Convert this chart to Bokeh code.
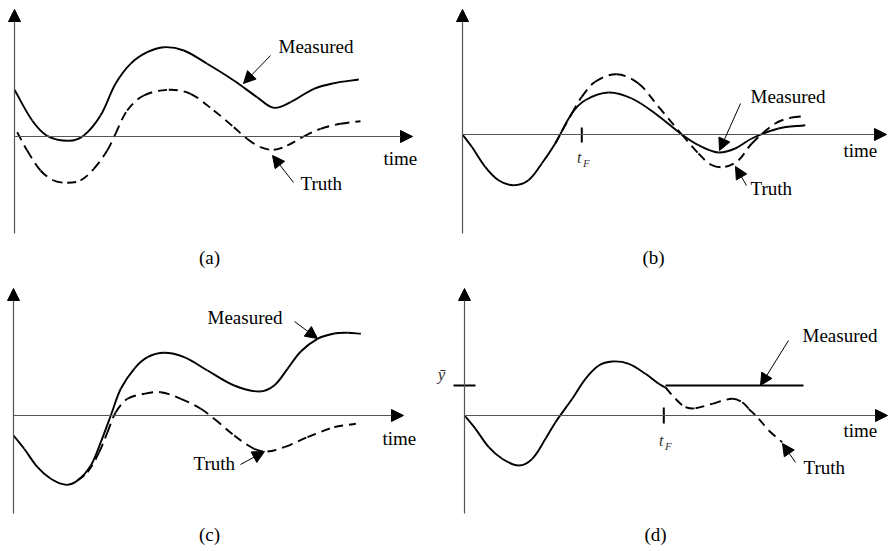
import numpy as np
from bokeh.plotting import figure
from bokeh.layouts import column, row
from bokeh.models import Range1d, Arrow, NormalHead, Label
from bokeh.embed import file_html
from bokeh.resources import INLINE

# ---------------- data (time units, value units) ----------------
# Panel (a)
a_meas_t = [0, 1.77, 3.27, 5.43, 6.93, 8.6, 10.1, 11.6, 13.27, 14.93, 16.93, 19.27, 21.93, 24.27, 25.93, 27.6, 29.93, 31.93, 34.43]
a_meas_v = [4.67, 1.6, 0.07, -0.43, 0.1, 2.1, 5.27, 7.27, 8.43, 8.93, 8.6, 7.27, 5.6, 3.93, 2.87, 3.43, 4.77, 5.33, 5.7]
a_truth_t = [0.27, 1.27, 2.6, 3.93, 5.27, 6.6, 7.93, 9.27, 10.1, 11.27, 12.93, 15.43, 17.6, 19.93, 21.93, 23.27, 24.6, 25.93, 27.27, 28.93, 30.6, 32.6, 34.6]
a_truth_v = [0.43, -1.4, -3.4, -4.4, -4.63, -4.4, -3.23, -1.4, 0.27, 2.6, 4.1, 4.67, 4.27, 2.6, 0.93, -0.23, -1.07, -1.33, -0.9, 0, 0.77, 1.27, 1.53]

# Panel (b)
b_meas_t = [0, 0.93, 2.27, 3.6, 5.1, 6.6, 7.93, 9.27, 10.93, 12.27, 14.6, 16.93, 19.27, 21.93, 23.6, 25.6, 27.27, 28.93, 31.6, 34.27]
b_meas_v = [0, -1.23, -3.23, -4.57, -5.07, -4.57, -2.9, -0.9, 2.1, 3.43, 4.2, 3.6, 2.1, 0, -1.07, -1.8, -1.4, -0.4, 0.6, 0.93]
b_truth_t = [9.27, 10.93, 11.93, 13.27, 15.43, 17.6, 19.6, 21.93, 23.6, 24.93, 26.27, 27.6, 28.93, 31.27, 32.93, 34.27]
b_truth_v = [-0.9, 2.1, 3.77, 5.27, 6.03, 5.1, 2.77, 0, -1.9, -3.07, -3.23, -2.57, -0.9, 1.1, 1.7, 1.83]
b_tF = 11.93

# Panel (c)
c_meas_t = [0, 1.07, 2.4, 3.73, 5.23, 6.4, 7.73, 8.73, 9.73, 10.73, 12.07, 13.4, 15.07, 17.07, 19.4, 22.07, 24.57, 26.07, 27.4, 28.73, 30.4, 32.07, 33.4, 34.73]
c_meas_v = [-2, -3.33, -5.17, -6.33, -6.93, -6.5, -5, -2.67, 0, 2.67, 4.67, 5.83, 6.27, 5.83, 4.5, 3, 2.4, 3, 4.67, 6.4, 7.67, 8.2, 8.27, 8.17]
c_truth_t = [6.4, 7.4, 8.57, 9.4, 10.23, 11.4, 13.07, 14.73, 16.73, 18.73, 20.07, 22.07, 24.07, 25.4, 27.07, 29.4, 32.07, 34.23]
c_truth_v = [-6.5, -5.67, -3.67, -1.67, 0.33, 1.67, 2.17, 2.33, 1.67, 0.67, -0.33, -2, -3.33, -3.6, -3.17, -2.17, -1.17, -0.83]

# Panel (d)
d_meas_t = [0, 1.1, 2.43, 3.77, 5.43, 6.77, 8.1, 9.1, 10.77, 12.1, 13.43, 14.77, 16.43, 18.1, 19.43, 20.1]
d_meas_v = [0, -1.33, -3.17, -4.33, -5, -4.33, -2.33, -0.67, 1.67, 3.67, 5, 5.4, 5.17, 4.17, 3.17, 2.8]
d_hold_t = [20.1, 33.9]
d_ybar = 3.0
d_truth_t = [20.1, 21.1, 22.1, 23.1, 24.77, 26.77, 27.77, 28.43, 29.43, 30.43, 31.77]
d_truth_v = [2.8, 1.67, 0.83, 0.73, 1.17, 1.67, 1.33, 0.67, -0.33, -1.5, -2.67]
d_tF = 19.93

FONT = "Liberation Serif"
AX = "#555555"


def smooth(t, v):
    """Bezier control points (tangent from neighbours, handle = chord/3)."""
    P = np.column_stack([np.asarray(t, float), np.asarray(v, float)])
    T = np.zeros_like(P)
    T[1:-1] = P[2:] - P[:-2]
    T[0] = P[1] - P[0]
    T[-1] = P[-1] - P[-2]
    U = T / np.linalg.norm(T, axis=1)[:, None]
    d = np.linalg.norm(P[1:] - P[:-1], axis=1)[:, None] / 3.0
    C0 = P[:-1] + U[:-1] * d
    C1 = P[1:] - U[1:] * d
    return dict(x0=P[:-1, 0], y0=P[:-1, 1], x1=P[1:, 0], y1=P[1:, 1],
                cx0=C0[:, 0], cy0=C0[:, 1], cx1=C1[:, 0], cy1=C1[:, 1])


def curve(p, t, v, dashed=False):
    kw = dict(line_color="black", line_width=1.9)
    if dashed:
        kw["line_dash"] = "9 6"
    p.bezier(**smooth(t, v), **kw)


def panel(xr, yr, w, h):
    p = figure(width=w, height=h, x_range=Range1d(*xr), y_range=Range1d(*yr),
               x_axis_type=None, y_axis_type=None, toolbar_location=None,
               output_backend="svg", min_border=0, outline_line_color=None,
               background_fill_color="white", border_fill_color="white")
    p.grid.visible = False
    return p


def axes(p, ybot, ytop, xend):
    for (xs, ys, xe, ye) in [(0, ybot, 0, ytop), (0, 0, xend, 0)]:
        p.add_layout(Arrow(end=NormalHead(size=12, fill_color="black", line_color="black", line_width=1),
                           x_start=xs, y_start=ys, x_end=xe, y_end=ye,
                           line_color=AX, line_width=1.2))


def text(p, x, y, s, size="19px", align="left", style="normal", color="black", baseline="middle"):
    p.add_layout(Label(x=x, y=y, text=s, text_font=FONT, text_font_size=size,
                       text_align=align, text_baseline=baseline, text_font_style=style,
                       text_color=color))


def pointer(p, xs, ys, xe, ye):
    p.add_layout(Arrow(end=NormalHead(size=12, fill_color="black", line_color="black", line_width=1),
                       x_start=xs, y_start=ys, x_end=xe, y_end=ye,
                       line_color="black", line_width=1))


def tf(p, x, tick_lo, tick_hi, ty):
    p.segment(x0=[x], y0=[tick_lo], x1=[x], y1=[tick_hi], line_color="black", line_width=2)
    text(p, x - 0.25, ty, "t", size="16px", align="center", style="italic", color="#333333")
    text(p, x + 0.45, ty - 0.5, "F", size="11px", align="center", style="italic", color="#333333")


LW, RW, TH, BH = 436, 454, 275, 276

# ---------------- (a) ----------------
pa = panel((-1.4, 42.2), (-13.9, 13.6), LW, TH)
axes(pa, -9.7, 12.7, 39.8)
curve(pa, a_meas_t, a_meas_v)
curve(pa, a_truth_t, a_truth_v, dashed=True)
text(pa, 26.4, 9.0, "Measured")
text(pa, 28.6, -4.7, "Truth")
text(pa, 36.9, -2.2, "time")
text(pa, 19.5, -12.1, "(a)", align="center")
pointer(pa, 25.6, 8.1, 22.9, 5.3)
pointer(pa, 27.9, -4.6, 25.8, -1.9)

# ---------------- (b) ----------------
pb = panel((-2.6, 42.8), (-14.1, 13.4), RW, TH)
axes(pb, -9.9, 12.5, 42.4)
curve(pb, b_meas_t, b_meas_v)
curve(pb, b_truth_t, b_truth_v, dashed=True)
tf(pb, b_tF, -0.8, 0.7, -2.3)
text(pb, 28.8, 3.8, "Measured")
text(pb, 28.8, -5.4, "Truth")
text(pb, 38.1, -1.6, "time")
text(pb, 19.1, -12.3, "(b)", align="center")
pointer(pb, 27.8, 3.1, 25.7, -1.6)
pointer(pb, 28.4, -5.1, 27.3, -3.2)

# ---------------- (c) ----------------
pc = panel((-1.3, 42.3), (-13.6, 14.0), LW, BH)
axes(pc, -9.8, 12.7, 39.0)
curve(pc, c_meas_t, c_meas_v)
curve(pc, c_truth_t, c_truth_v, dashed=True)
text(pc, 19.4, 9.8, "Measured")
text(pc, 18.0, -4.8, "Truth")
text(pc, 36.9, -2.3, "time")
text(pc, 19.6, -11.9, "(c)", align="center")
pointer(pc, 28.1, 9.4, 30.4, 7.7)
pointer(pc, 22.7, -4.9, 25.1, -3.6)

# ---------------- (d) ----------------
pd = panel((-2.8, 42.6), (-13.6, 14.0), RW, BH)
axes(pd, -9.8, 12.7, 42.3)
curve(pd, d_meas_t, d_meas_v)
pd.line(x=d_hold_t, y=[d_ybar] * len(d_hold_t), line_color="black", line_width=1.9)
curve(pd, d_truth_t, d_truth_v, dashed=True)
pd.segment(x0=[-1.1], y0=[d_ybar], x1=[1.1], y1=[d_ybar], line_color="black", line_width=2)
text(pd, -2.3, d_ybar + 1.1, "ȳ", size="17px", align="center", style="italic", color="#333333")
tf(pd, d_tF, -0.8, 0.8, -2.5)
text(pd, 33.8, 8.0, "Measured")
text(pd, 33.9, -5.2, "Truth")
text(pd, 37.9, -1.5, "time")
text(pd, 19.1, -11.9, "(d)", align="center")
pointer(pd, 32.4, 7.5, 29.6, 3.0)
pointer(pd, 33.1, -4.7, 31.8, -2.8)

layout = column(row(pa, pb), row(pc, pd))
open("out.html", "w").write(file_html(layout, INLINE))
